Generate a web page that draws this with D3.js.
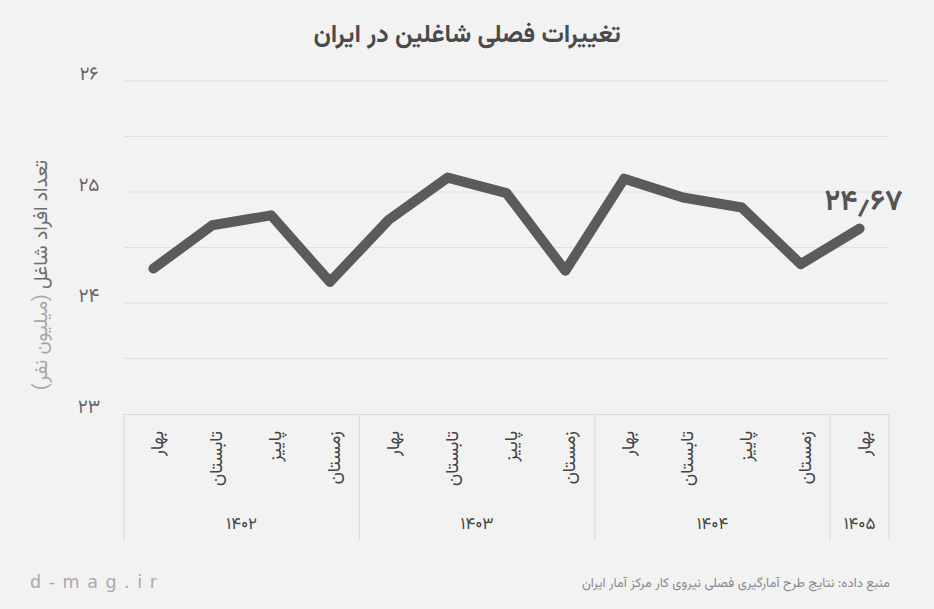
<!DOCTYPE html>
<html><head><meta charset="utf-8">
<script src="https://cdn.jsdelivr.net/npm/d3@7/dist/d3.min.js"></script>
<style>
html,body{margin:0;padding:0;background:#f2f2f2;}
svg{display:block;font-family:Vazirmatn,"Noto Sans Arabic","DejaVu Sans",sans-serif;}
</style></head>
<body>
<svg id="c" width="934" height="609"></svg>
<script>
const quarters = ["بهار","تابستان","پاییز","زمستان","بهار","تابستان","پاییز","زمستان","بهار","تابستان","پاییز","زمستان","بهار"];
const values = [24.31, 24.70, 24.79, 24.19, 24.75, 25.13, 24.99, 24.29, 25.12, 24.95, 24.86, 24.35, 24.67];
const years = ["۱۴۰۲","۱۴۰۳","۱۴۰۴","۱۴۰۵"];
const yearSpans = [4, 4, 4, 1];
const yTicks = [23, 24, 25, 26];
const yTickLabels = ["۲۳","۲۴","۲۵","۲۶"];
const gridValues = [23.5, 24, 24.5, 25, 25.5, 26];
const lastLabel = "۲۴٫۶۷";
const title = "تغییرات فصلی شاغلین در ایران";
const yTitleMain = "تعداد افراد شاغل ";
const yTitleUnit = "(میلیون نفر)";
const sourceText = "منبع داده: نتایج طرح آمارگیری فصلی نیروی کار مرکز آمار ایران";
const brand = "d - m a g . i r";

const svg = d3.select("#c");
const x = d3.scaleBand().domain(d3.range(quarters.length)).range([124, 889]).padding(0);
const y = d3.scaleLinear().domain([23, 26]).range([414, 81]);
const cx = i => x(i) + x.bandwidth() / 2;

// title
svg.append("text").attr("x", 467).attr("y", 42).attr("text-anchor", "middle")
  .attr("font-size", 25).attr("font-weight", "bold").attr("fill", "#4a4a4a").text(title);

// gridlines
svg.append("g").selectAll("line").data(gridValues).join("line")
  .attr("x1", 124).attr("x2", 889).attr("y1", d => y(d)).attr("y2", d => y(d))
  .attr("stroke", "#e0e0e0").attr("stroke-width", 1.2);

// axis box top line
svg.append("line").attr("x1", 124).attr("x2", 889).attr("y1", y(23) + 0.5).attr("y2", y(23) + 0.5)
  .attr("stroke", "#dcdcdc").attr("stroke-width", 1.2);

// y tick labels
svg.append("g").selectAll("text").data(yTicks).join("text")
  .attr("x", 89).attr("y", d => y(d) - 1).attr("text-anchor", "middle")
  .attr("font-size", 19).attr("fill", "#666")
  .text((d, i) => yTickLabels[i]);

// y axis title
const yt = svg.append("text").attr("transform", "translate(47,275) rotate(-90)")
  .attr("text-anchor", "middle").attr("direction", "rtl").attr("font-size", 19.5);
yt.append("tspan").attr("fill", "#6e6e6e").text(yTitleMain);
yt.append("tspan").attr("fill", "#a8a8a8").text(yTitleUnit);

// group boundaries
let cum = [0];
yearSpans.forEach(s => cum.push(cum[cum.length - 1] + s));
const boundX = cum.map(k => k < quarters.length ? x(k) : x(quarters.length - 1) + x.bandwidth());
svg.append("g").selectAll("line").data(boundX).join("line")
  .attr("x1", d => d).attr("x2", d => d).attr("y1", 414).attr("y2", 540)
  .attr("stroke", "#dcdcdc").attr("stroke-width", 1.2);

// quarter labels
svg.append("g").selectAll("text").data(quarters).join("text")
  .attr("transform", (d, i) => `translate(${cx(i) + 10},431) rotate(-90)`)
  .attr("text-anchor", "end").attr("font-size", 18).attr("fill", "#444")
  .text(d => d);

// year labels
svg.append("g").selectAll("text").data(years).join("text")
  .attr("x", (d, i) => (boundX[i] + boundX[i + 1]) / 2).attr("y", 529)
  .attr("text-anchor", "middle").attr("font-size", 17).attr("fill", "#444")
  .text(d => d);

// line
const line = d3.line().x((d, i) => cx(i)).y(d => y(d));
svg.append("path").datum(values).attr("d", line).attr("fill", "none")
  .attr("stroke", "#5b5b5b").attr("stroke-width", 10)
  .attr("stroke-linejoin", "round").attr("stroke-linecap", "round");

// last value label
const li = values.length - 1;
svg.append("text").attr("x", cx(li) + 4).attr("y", y(values[li]) - 19)
  .attr("text-anchor", "middle").attr("font-size", 29).attr("font-weight", "bold")
  .attr("fill", "#555").text(lastLabel);

// footer
svg.append("text").attr("x", 30).attr("y", 588).attr("font-size", 17.5)
  .attr("letter-spacing", 1).attr("fill", "#a9a9a9")
  .attr("font-family", "'DejaVu Sans',sans-serif").text(brand);
svg.append("text").attr("x", 890).attr("y", 587).attr("text-anchor", "end")
  .attr("font-size", 13).attr("fill", "#8a8a8a").text(sourceText);
</script>
</body></html>
